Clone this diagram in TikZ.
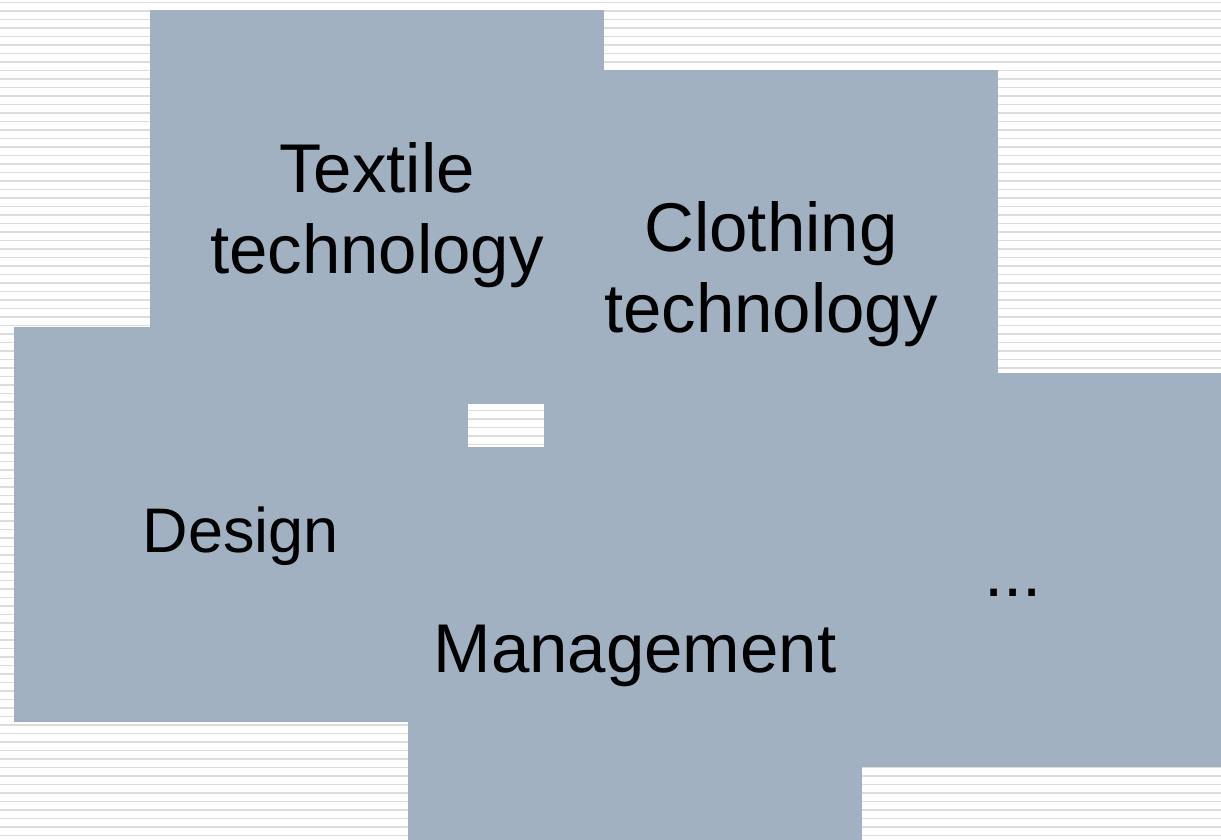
\documentclass[tikz,border=0pt]{standalone}
\usepackage{fontspec}
\setmainfont{Liberation Sans}
\usepackage{tikz}
\usetikzlibrary{positioning}
\definecolor{panel}{RGB}{162,177,193}
\definecolor{stripe}{RGB}{221,221,221}
\begin{document}
\begin{tikzpicture}[line cap=butt,line join=round,x=1pt,y=-1pt]
\useasboundingbox (0,0) rectangle (1221,840);
\fill [color=white] (0,0) rectangle (1221,840);
\foreach \k in {0,...,98}
  \draw [line width=1.8pt,color=stripe] (0,2.5+8.5*\k) -- (1221,2.5+8.5*\k);
\fill [color=panel] (150,10) rectangle (604,404);
\fill [color=panel] (544,70) rectangle (998,464);
\fill [color=panel] (14,327) rectangle (468,722);
\fill [color=panel] (408,447) rectangle (862,840);
\fill [color=panel] (786,373) rectangle (1221,767);
\node [anchor=base,align=center,font=\fontsize{69}{81}\selectfont] (textile) at (377,273) {Textile\\technology};
\node [anchor=base,align=center,font=\fontsize{69}{81}\selectfont] (clothing) at (771,332) {Clothing\\technology};
\node [anchor=base,font=\fontsize{63}{75}\selectfont] (design) at (241,552) {Design};
\node [anchor=base,font=\fontsize{69}{81}\selectfont] (management) at (635,672) {Management};
\node [anchor=base,font=\fontsize{69}{81}\selectfont] (more) at (1013,596) {...};
\end{tikzpicture}
\end{document}
